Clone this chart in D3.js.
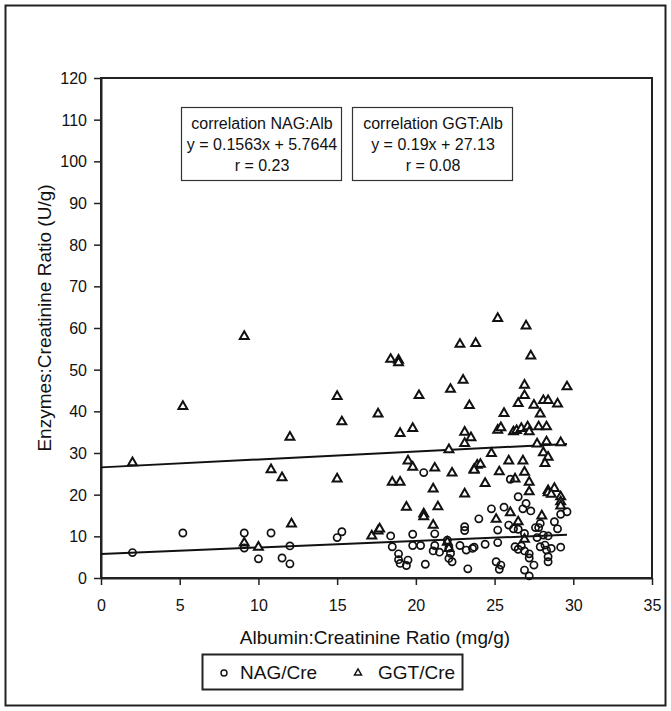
<!DOCTYPE html>
<html>
<head>
<meta charset="utf-8">
<script src="https://cdn.jsdelivr.net/npm/d3@7/dist/d3.min.js"></script>
<style>
	body { margin: 0; background: #fff; }
	text { font-family: "Liberation Sans", Arial, sans-serif; fill: #111; }
</style>
</head>
<body>
<div class="scatter-plot"></div>
<script>
// NAG/Cre points: [albumin:creatinine, enzyme:creatinine]
var nagData = [
	[2.0, 6.1], [5.2, 10.8], [9.1, 10.8], [9.1, 7.2], [10.0, 4.6], [10.8, 10.8],
	[11.5, 4.8], [12.0, 7.7], [12.0, 3.4], [15.0, 9.7], [15.3, 11.1],
	[18.4, 10.1], [18.5, 7.5], [18.9, 5.8], [18.9, 4.4], [19.0, 3.5], [19.4, 3.0],
	[19.5, 4.3], [19.8, 10.5], [19.8, 7.8], [20.3, 7.8], [20.5, 25.3], [20.6, 3.3],
	[21.2, 10.6], [21.2, 7.8], [21.1, 6.5], [21.5, 6.2], [22.0, 9.1], [22.1, 7.2],
	[22.2, 5.9], [22.1, 4.7], [22.3, 3.9], [22.8, 7.8], [23.1, 12.3], [23.1, 11.4],
	[23.3, 2.2], [23.6, 7.1], [23.7, 7.4], [23.2, 6.7], [24.0, 14.2], [24.4, 8.1],
	[24.8, 16.6], [25.2, 11.5], [25.2, 8.5], [25.1, 3.9], [25.4, 3.1], [25.3, 2.1],
	[25.6, 17.0], [26.0, 23.7], [25.9, 12.7], [26.5, 19.5], [26.2, 11.8], [26.5, 11.7],
	[26.3, 7.5], [26.5, 6.9], [27.0, 17.9], [26.8, 16.6], [26.9, 10.7], [26.9, 6.5],
	[26.7, 7.7], [26.9, 1.9], [27.3, 16.1], [27.2, 5.8], [27.2, 4.8], [27.5, 3.1],
	[27.2, 0.5], [27.6, 12.1], [27.9, 13.1], [27.8, 12.1], [27.7, 9.7], [27.9, 7.5],
	[28.1, 10.3], [28.4, 10.1], [28.2, 7.9], [28.3, 6.7], [28.4, 5.1], [28.4, 3.9],
	[28.8, 13.5], [29.0, 11.8], [28.6, 7.1], [29.2, 7.4], [29.2, 15.3], [29.6, 15.9]
];

// GGT/Cre points
var ggtData = [
	[2.0, 27.7], [5.2, 41.2], [9.1, 58.0], [9.1, 8.4], [10.0, 7.4], [10.8, 26.0],
	[11.5, 24.1], [12.0, 33.8], [12.1, 13.0], [15.0, 43.6], [15.3, 37.5], [15.0, 23.8],
	[17.6, 39.4], [17.2, 10.1], [17.6, 11.3], [17.7, 11.8], [18.4, 52.5], [18.9, 52.3],
	[18.9, 51.7], [18.5, 23.0], [19.0, 23.0], [19.0, 34.7], [19.4, 17.0], [19.5, 28.1],
	[19.8, 26.6], [19.8, 35.9], [20.2, 43.8], [20.5, 15.4], [20.5, 14.7], [21.1, 21.4],
	[21.2, 26.4], [21.4, 17.1], [21.1, 12.7], [22.1, 30.8], [22.2, 45.3], [22.3, 25.2],
	[22.1, 7.1], [22.0, 8.6], [22.8, 56.1], [23.0, 47.5], [23.4, 41.4], [23.1, 35.0],
	[23.5, 33.7], [23.1, 32.3], [23.7, 26.1], [23.9, 27.1], [23.1, 20.2], [23.8, 56.3],
	[24.1, 27.3], [23.7, 25.9], [24.4, 22.7], [25.2, 62.3], [24.8, 29.9], [25.2, 35.5],
	[25.4, 36.1], [25.3, 25.5], [25.1, 14.1], [25.6, 39.5], [25.9, 28.1], [26.0, 15.7],
	[26.2, 35.1], [26.5, 41.9], [26.3, 23.8], [26.5, 13.5], [26.4, 35.4], [27.0, 60.5],
	[26.9, 46.3], [26.9, 43.8], [26.7, 35.9], [26.8, 28.1], [26.9, 25.4], [26.9, 9.3],
	[27.3, 53.3], [27.5, 41.5], [27.1, 36.3], [27.2, 35.1], [27.2, 23.0], [27.2, 20.7],
	[27.8, 36.3], [27.9, 39.4], [27.7, 32.2], [28.0, 14.9], [28.1, 42.6], [28.4, 42.6],
	[28.3, 36.3], [28.3, 32.7], [28.1, 30.1], [28.4, 29.0], [28.2, 27.5], [28.4, 21.0],
	[28.4, 20.5], [29.0, 41.8], [29.2, 32.5], [28.8, 21.5], [28.6, 20.1], [29.2, 19.5],
	[29.2, 18.3], [29.2, 17.3], [29.6, 45.9]
];

// regression lines drawn from x = 0 to the last albumin value
var fits = [
	{ slope: 0.1563, intercept: 5.7644, x0: 0, x1: 29.6 },
	{ slope: 0.19, intercept: 26.55, x0: 0, x1: 29.6 }
];

var notes = [
	["correlation NAG:Alb", "y = 0.1563x + 5.7644", "r = 0.23"],
	["correlation GGT:Alb", "y = 0.19x + 27.13", "r = 0.08"]
];

var xTicks = [0, 5, 10, 15, 20, 25, 30, 35];
var yTicks = [0, 10, 20, 30, 40, 50, 60, 70, 80, 90, 100, 110, 120];
var legendNames = ["NAG/Cre", "GGT/Cre"];

var W = 671, H = 711;

var svg = d3.select(".scatter-plot").append("svg")
	.attr("width", W)
	.attr("height", H);

// outer frame
svg.append("rect")
	.attr("x", 5.5).attr("y", 5.5)
	.attr("width", 660).attr("height", 700)
	.attr("fill", "none")
	.attr("stroke", "#222")
	.attr("stroke-width", 2);

var x = d3.scaleLinear().domain([0, 35]).range([101, 652]),
	y = d3.scaleLinear().domain([0, 120]).range([578, 78]);

// plot box
svg.append("rect")
	.attr("x", x(0)).attr("y", y(120))
	.attr("width", x(35) - x(0)).attr("height", y(0) - y(120))
	.attr("fill", "none")
	.attr("stroke", "#222")
	.attr("stroke-width", 2);

var xAxis = d3.axisBottom(x).tickValues(xTicks).tickSize(7).tickSizeOuter(0),
	yAxis = d3.axisLeft(y).tickValues(yTicks).tickSize(7).tickSizeOuter(0);

var gx = svg.append("g")
	.attr("transform", "translate(0," + y(0) + ")")
	.call(xAxis);
var gy = svg.append("g")
	.attr("transform", "translate(" + x(0) + ",0)")
	.call(yAxis);

[gx, gy].forEach(function (g) {
	g.select(".domain").attr("stroke", "#222").attr("stroke-width", 2);
	g.selectAll(".tick line").attr("stroke", "#222").attr("stroke-width", 1.5);
	g.selectAll(".tick text")
		.style("font-family", "Liberation Sans, Arial, sans-serif")
		.style("font-size", "16px")
		.attr("fill", "#111");
});
gx.selectAll(".tick text").attr("dy", "1.45em");
gy.selectAll(".tick text").attr("x", -14).attr("dy", "0.35em");

svg.append("text")
	.attr("x", 375).attr("y", 644)
	.attr("text-anchor", "middle")
	.style("font-size", "19px")
	.text("Albumin:Creatinine Ratio (mg/g)");

svg.append("text")
	.attr("transform", "translate(51," + 318 + ") rotate(-90)")
	.attr("text-anchor", "middle")
	.style("font-size", "19px")
	.text("Enzymes:Creatinine Ratio (U/g)");

// regression lines
svg.selectAll(".fit")
	.data(fits)
	.enter().append("line")
	.attr("class", "fit")
	.attr("x1", function (d) { return x(d.x0); })
	.attr("y1", function (d) { return y(d.intercept + d.slope * d.x0); })
	.attr("x2", function (d) { return x(d.x1); })
	.attr("y2", function (d) { return y(d.intercept + d.slope * d.x1); })
	.attr("stroke", "#111")
	.attr("stroke-width", 2);

var tri = d3.symbol().type(d3.symbolTriangle).size(34);

svg.selectAll(".ggt")
	.data(ggtData)
	.enter().append("path")
	.attr("class", "ggt")
	.attr("d", tri)
	.attr("transform", function (d) {
		return "translate(" + x(d[0]) + "," + y(d[1]) + ")";
	})
	.attr("fill", "#fff")
	.attr("stroke", "#111")
	.attr("stroke-width", 2);

svg.selectAll(".nag")
	.data(nagData)
	.enter().append("circle")
	.attr("class", "nag")
	.attr("cx", function (d) { return x(d[0]); })
	.attr("cy", function (d) { return y(d[1]); })
	.attr("r", 3.6)
	.attr("fill", "none")
	.attr("stroke", "#111")
	.attr("stroke-width", 1.7);

// correlation boxes
var boxes = [{ x: 181, w: 160 }, { x: 352, w: 160 }];
var note = svg.selectAll(".note")
	.data(notes)
	.enter().append("g")
	.attr("class", "note")
	.attr("transform", function (d, i) {
		return "translate(" + boxes[i].x + ",107)";
	});
note.append("rect")
	.attr("x", 0.5).attr("y", 0.5)
	.attr("width", function (d, i) { return boxes[i].w; })
	.attr("height", 73)
	.attr("fill", "#fff")
	.attr("stroke", "#333")
	.attr("stroke-width", 1.2);
note.each(function (d, i) {
	var g = d3.select(this);
	d.forEach(function (line, j) {
		g.append("text")
			.attr("x", boxes[i].w / 2 + 1)
			.attr("y", 22 + j * 21)
			.attr("text-anchor", "middle")
			.style("font-size", "16px")
			.text(line);
	});
});

// legend
var legend = svg.append("g").attr("transform", "translate(202,654)");
legend.append("rect")
	.attr("x", 0.5).attr("y", 0.5)
	.attr("width", 260).attr("height", 35)
	.attr("fill", "#fff")
	.attr("stroke", "#222")
	.attr("stroke-width", 2);
legend.append("circle")
	.attr("cx", 22).attr("cy", 19).attr("r", 3)
	.attr("fill", "none").attr("stroke", "#111").attr("stroke-width", 1.4);
legend.append("path")
	.attr("d", d3.symbol().type(d3.symbolTriangle).size(22))
	.attr("transform", "translate(156,19)")
	.attr("fill", "#fff").attr("stroke", "#111").attr("stroke-width", 1.4);
legend.selectAll(".lt")
	.data(legendNames)
	.enter().append("text")
	.attr("class", "lt")
	.attr("x", function (d, i) { return i === 0 ? 38 : 176; })
	.attr("y", 25)
	.style("font-size", "19px")
	.text(function (d) { return d; });
</script>
</body>
</html>
